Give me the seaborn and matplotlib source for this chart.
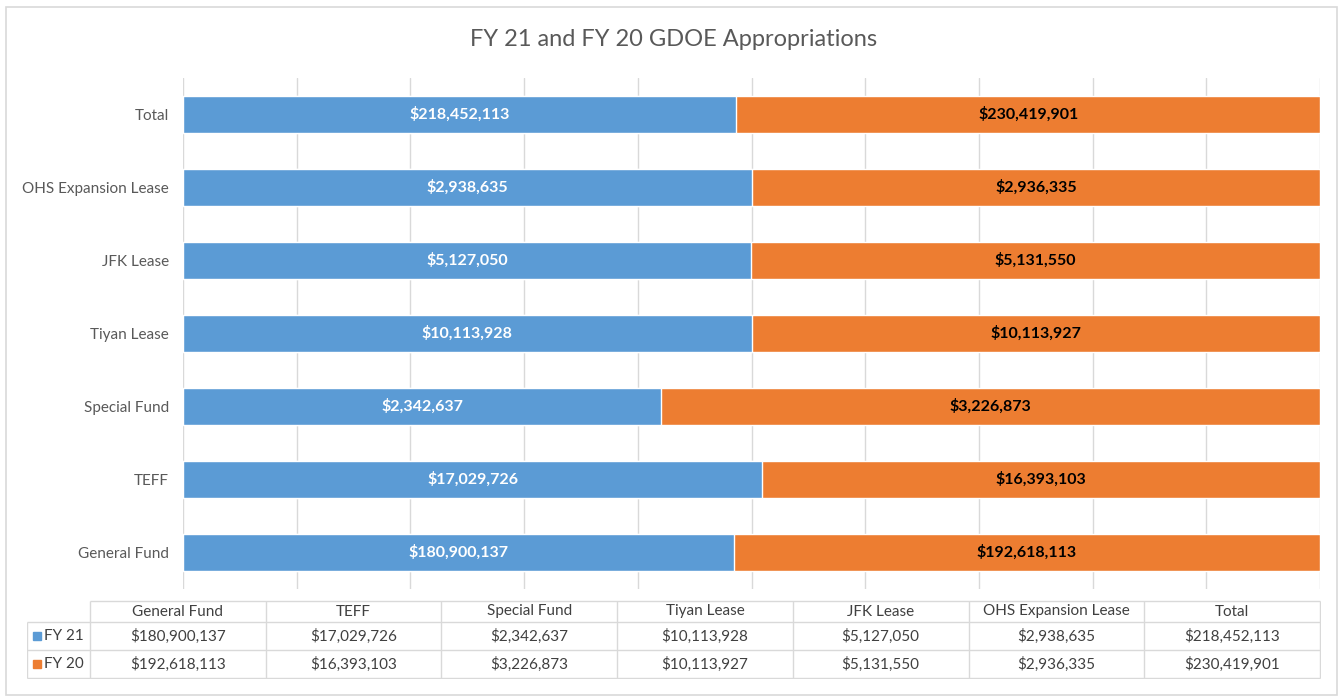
import pandas as pd
import matplotlib.pyplot as plt
import seaborn as sns
from matplotlib.patches import Rectangle

# Data
categories = ["General Fund", "TEFF", "Special Fund", "Tiyan Lease",
              "JFK Lease", "OHS Expansion Lease", "Total"]
fy21 = [180900137, 17029726, 2342637, 10113928, 5127050, 2938635, 218452113]
fy20 = [192618113, 16393103, 3226873, 10113927, 5131550, 2936335, 230419901]
series_names = ["FY 21", "FY 20"]

BLUE, ORANGE = "#5B9BD5", "#ED7D31"
GRID, TXT = "#D9D9D9", "#595959"

sns.set_theme(style="white")
plt.rcParams["font.family"] = ["Lato", "DejaVu Sans"]

df = pd.DataFrame({"category": categories, "fy21": fy21, "fy20": fy20})
df["pct21"] = df["fy21"] / (df["fy21"] + df["fy20"]) * 100
df["pct20"] = df["fy20"] / (df["fy21"] + df["fy20"]) * 100
df["end20"] = df["pct21"] + df["pct20"]
df_plot = df.iloc[::-1].reset_index(drop=True)  # Total on top

W, H = 1344, 696
fig = plt.figure(figsize=(W / 100, H / 100), dpi=100)
fig.patches.append(Rectangle((6 / W, 1 / H), 1331 / W, 688 / H, transform=fig.transFigure,
                             fill=False, edgecolor=GRID, linewidth=1.2))

ax = fig.add_axes([183 / W, 1 - 589 / H, 1137 / W, 511 / H])
# 100% stacked: full bar in orange, FY 21 share in blue on top
sns.barplot(data=df_plot, x="end20", y="category", color=ORANGE, width=0.5,
            saturation=1, orient="h", ax=ax, zorder=2)
sns.barplot(data=df_plot, x="pct21", y="category", color=BLUE, width=0.5,
            saturation=1, orient="h", ax=ax, zorder=3)

for i, row in df_plot.iterrows():
    ax.text(row["pct21"] / 2, i, f"${row['fy21']:,}", ha="center", va="center",
            color="white", fontsize=11.5, fontweight="bold", zorder=4)
    ax.text(row["pct21"] + row["pct20"] / 2, i, f"${row['fy20']:,}", ha="center",
            va="center", color="black", fontsize=11.5, fontweight="bold", zorder=4)

ax.set_xlim(0, 100)
ax.set_ylim(6.5, -0.5)
ax.set_xticks(range(0, 101, 10))
ax.set_xticklabels([])
ax.xaxis.grid(True, color=GRID, linewidth=1, zorder=0)
ax.set_axisbelow(True)
ax.tick_params(axis="both", length=0)
ax.tick_params(axis="y", labelsize=11, labelcolor=TXT, pad=10)
ax.set_xlabel("")
ax.set_ylabel("")
for s in ax.spines.values():
    s.set_visible(False)

fig.text(674 / W, 1 - 40 / H, "FY 21 and FY 20 GDOE Appropriations", ha="center",
         va="center", fontsize=17, color=TXT)

# Data table under the chart
tab = fig.add_axes([27 / W, 1 - 679 / H, 1294 / W, 79 / H])
tab.set_xlim(27, 1321)
tab.set_ylim(679, 600)
tab.axis("off")
x0, x1, ncol = 90, 1320, len(categories)
cw = (x1 - x0) / ncol
tab.hlines(601, x0, x1, color=GRID, lw=1)
tab.hlines([622, 650, 678], 27, x1, color=GRID, lw=1)
tab.vlines(27, 622, 678, color=GRID, lw=1)
for j in range(ncol + 1):
    tab.vlines(x0 + j * cw, 601, 678, color=GRID, lw=1)
for j, cat in enumerate(categories):
    cx = x0 + (j + 0.5) * cw
    tab.text(cx, 611.5, cat, ha="center", va="center", fontsize=11, color="#404040")
    tab.text(cx, 636, f"${fy21[j]:,}", ha="center", va="center", fontsize=11, color="#404040")
    tab.text(cx, 664, f"${fy20[j]:,}", ha="center", va="center", fontsize=11, color="#404040")
for y, name, col in [(636, series_names[0], BLUE), (664, series_names[1], ORANGE)]:
    tab.plot([37], [y], marker="s", markersize=5.5, color=col, linestyle="none")
    tab.text(44, y, name, ha="left", va="center", fontsize=11, color="#404040")

fig.savefig("out.png", dpi=100, facecolor="white")
